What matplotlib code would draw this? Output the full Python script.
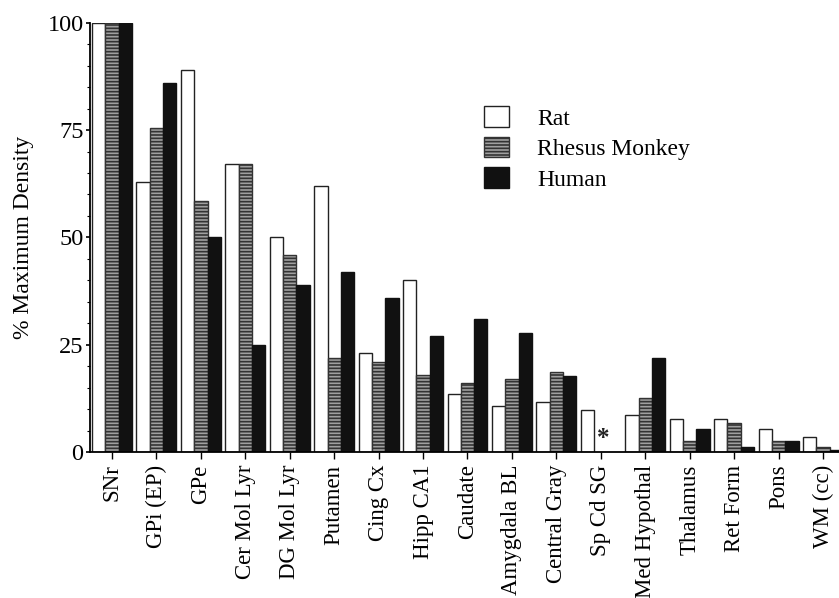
import numpy as np
import matplotlib
matplotlib.use("Agg")
import matplotlib.pyplot as plt

plt.rcParams['font.family'] = ['Liberation Serif', 'DejaVu Serif']
plt.rcParams['hatch.linewidth'] = 1.2

categories = ["SNr", "GPi (EP)", "GPe", "Cer Mol Lyr", "DG Mol Lyr", "Putamen",
              "Cing Cx", "Hipp CA1", "Caudate", "Amygdala BL", "Central Gray",
              "Sp Cd SG", "Med Hypothal", "Thalamus", "Ret Form", "Pons", "WM (cc)"]
rat    = [100, 63, 89, 67, 50, 62, 23, 40, 13.6, 10.7, 11.7, 9.7, 8.7, 7.8, 7.8, 5.4, 3.4]
monkey = [100, 75.5, 58.5, 67, 46, 22, 21, 18, 16, 17, 18.6, np.nan, 12.6, 2.5, 6.7, 2.5, 1.3]
human  = [100, 86, 50, 25, 39, 42, 36, 27, 31, 27.7, 17.7, np.nan, 21.8, 5.4, 1.3, 2.5, 0.5]
missing_marker = "*"

fig = plt.figure(figsize=(8.39, 5.98), dpi=100)
ax = fig.add_axes([0.107, 0.244, 0.893, 0.718])

x = np.arange(len(categories))
w = 0.3
ax.bar(x - w, rat, w, color='white', edgecolor='#222222', linewidth=1.0, label='Rat')
ax.bar(x, monkey, w, color='#a0a0a0', edgecolor='#333333', linewidth=1.0,
       hatch='-----', label='Rhesus Monkey')
ax.bar(x + w, human, w, color='#111111', edgecolor='#111111', linewidth=1.0, label='Human')

for i, v in enumerate(monkey):
    if np.isnan(v):
        ax.text(x[i] + 0.06, 0.6, missing_marker, ha='center', va='bottom',
                fontsize=18, fontweight='bold', color='#222222')

ax.set_xlim(-0.5, 16.36)
ax.set_ylim(0, 100)
ax.set_yticks([0, 25, 50, 75, 100])
ax.set_yticks(np.arange(0, 101, 5), minor=True)
ax.set_xticks(x)
ax.set_xticklabels(categories, rotation=90, fontsize=16.5)
ax.tick_params(axis='y', labelsize=17.5, direction='out', length=3, width=1.2, pad=1.5)
ax.tick_params(axis='y', which='minor', length=2, width=0.8)
ax.tick_params(axis='x', direction='out', length=5, width=1.0, pad=4)
ax.set_ylabel('% Maximum Density', fontsize=17, labelpad=10)

for s in ['top', 'right']:
    ax.spines[s].set_visible(False)
ax.spines['left'].set_linewidth(1.3)
ax.spines['bottom'].set_linewidth(1.3)

fig.legend(loc='upper left', bbox_to_anchor=(0.577, 0.822), frameon=False,
           fontsize=17, handlelength=1.05, handleheight=0.95,
           handletextpad=1.2, labelspacing=0.3, borderpad=0, borderaxespad=0)

fig.savefig('out.png', dpi=100)
